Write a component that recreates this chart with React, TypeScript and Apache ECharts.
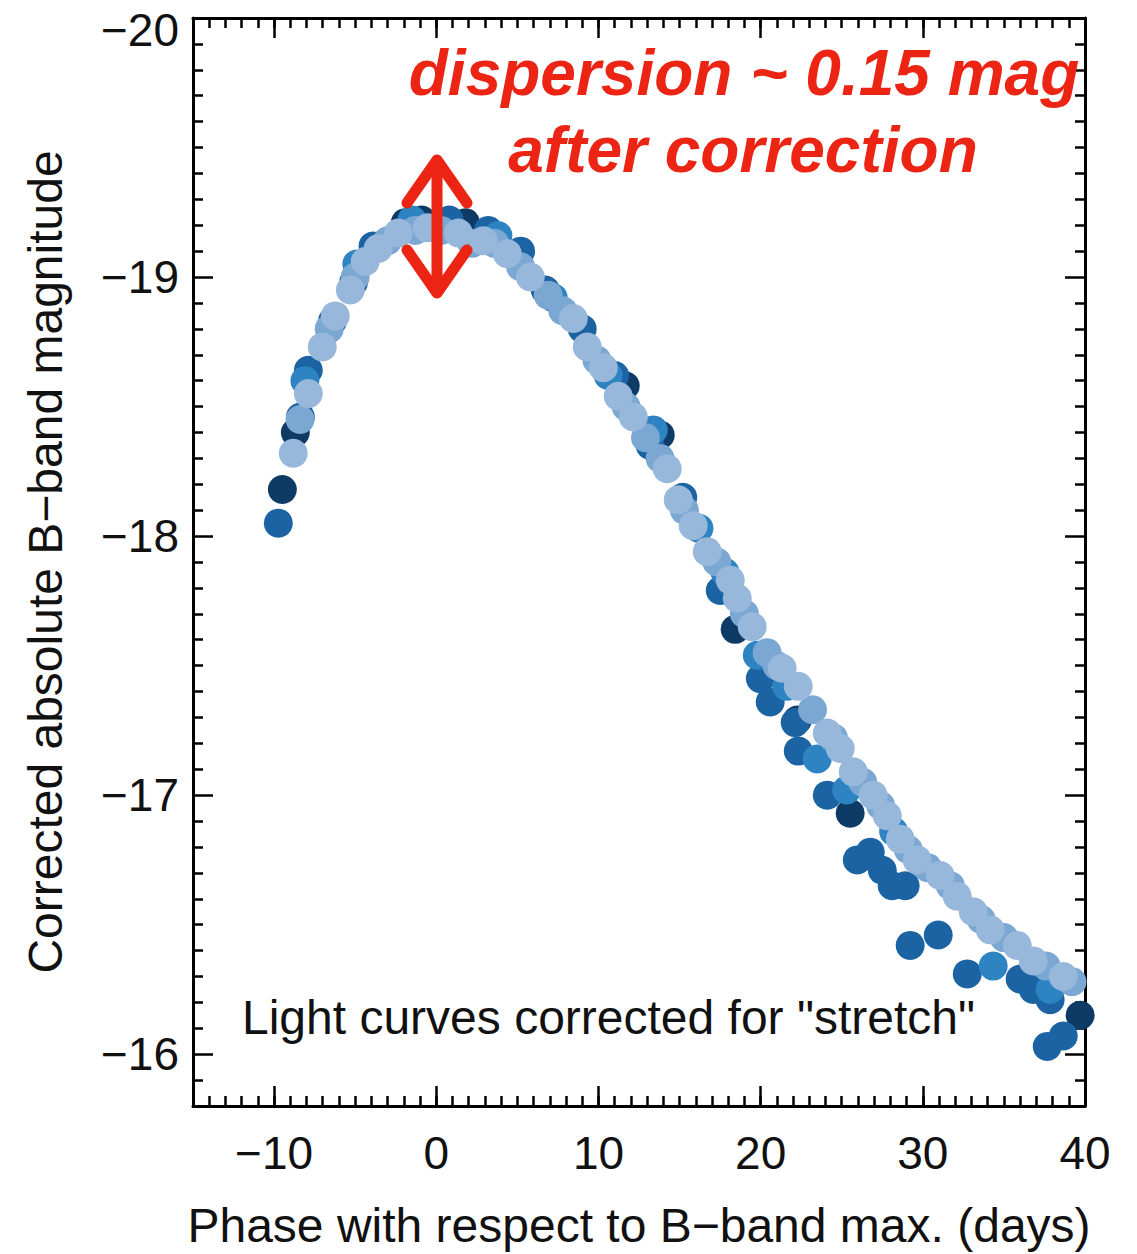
import React, { useEffect, useRef } from 'react';
import * as echarts from 'echarts';

// Tick values
const xMajorTicks = [-10, 0, 10, 20, 30, 40];
const xRange = [-15, 40];
const yRange = [-20, -15.8];

// Light curves: [phase (days), corrected absolute B magnitude]
const snNavy: number[][] = [
  [-9.49, -18.18], [-8.69, -18.40], [-1.91, -19.21], [-0.9, -19.22], [1.8, -19.21], [11.65, -18.58],
  [13.81, -18.39], [18.43, -17.64], [22.26, -17.29], [25.52, -16.93], [39.7, -16.15],
];
const snDark: number[][] = [
  [-9.74, -18.05], [-8.38, -18.46], [-7.89, -18.64], [-6.4, -18.83], [-5.1, -18.98], [-3.9, -19.12],
  [0.8, -19.22], [3.2, -19.18], [5.2, -19.1], [6.72, -18.95], [9.0, -18.8], [11.0, -18.62],
  [13.19, -18.35], [15.2, -18.15], [17.51, -17.79], [19.98, -17.45], [20.59, -17.36], [22.13, -17.28],
  [22.32, -17.17], [24.11, -17.0], [25.96, -16.75], [26.76, -16.78], [27.5, -16.71], [28.11, -16.65],
  [28.91, -16.65], [29.22, -16.42], [30.95, -16.46], [32.74, -16.31], [36.0, -16.29], [36.81, -16.25],
  [37.85, -16.21], [37.67, -16.03], [38.66, -16.07],
];
const snMedium: number[][] = [
  [-8.1, -18.6], [-4.9, -19.05], [-1.5, -19.22], [3.8, -19.16], [7.21, -18.92], [10.6, -18.62],
  [13.38, -18.41], [16.2, -18.03], [17.8, -17.86], [19.79, -17.54], [21.6, -17.42], [23.49, -17.14],
  [25.3, -17.02], [28.2, -16.86], [34.34, -16.34], [37.85, -16.25],
];
const snLight: number[][] = [
  [-8.4, -18.45], [-6.6, -18.8], [-5.0, -19.0], [-3.0, -19.14], [-1.3, -19.18], [0.3, -19.18],
  [2.2, -19.13], [3.6, -19.13], [5.2, -19.04], [6.9, -18.93], [7.8, -18.87], [9.9, -18.68],
  [11.7, -18.5], [12.9, -18.38], [13.8, -18.3], [15.3, -18.1], [17.3, -17.9], [19.0, -17.7],
  [20.4, -17.55], [21.0, -17.5], [23.2, -17.33], [24.5, -17.22], [26.3, -17.05], [27.4, -16.96],
  [29.1, -16.79], [30.3, -16.72], [31.7, -16.65], [33.6, -16.52], [35.0, -16.45], [37.6, -16.34],
  [39.2, -16.28],
];
const snLightest: number[][] = [
  [-8.82, -18.32], [-7.89, -18.55], [-7.03, -18.73], [-6.23, -18.85], [-5.3, -18.95], [-4.38, -19.06],
  [-3.58, -19.11], [-2.34, -19.17], [-0.55, -19.19], [1.36, -19.17], [2.9, -19.14], [4.38, -19.09],
  [5.8, -19.0], [8.45, -18.84], [9.31, -18.73], [10.3, -18.65], [11.22, -18.54], [12.15, -18.46],
  [14.24, -18.26], [14.92, -18.14], [15.84, -18.04], [16.71, -17.94], [18.13, -17.83], [18.56, -17.76],
  [19.48, -17.65], [21.33, -17.49], [22.32, -17.42], [24.11, -17.24], [24.91, -17.18], [25.71, -17.09],
  [26.94, -17.0], [27.81, -16.92], [28.61, -16.83], [29.65, -16.75], [31.07, -16.69], [32.12, -16.61],
  [33.11, -16.55], [34.16, -16.48], [35.82, -16.42], [36.81, -16.36], [38.66, -16.3],
];

const FONT = '"Liberation Sans", Arial, Helvetica, sans-serif';
const RED = '#ec2414';
const INK = '#111111';

const minus = (v: number) => String(v).replace('-', '\u2212');

export default function App() {
  const ref = useRef<HTMLDivElement>(null);
  useEffect(() => {
    const chart = echarts.init(ref.current!, null, { renderer: 'svg' });
    const groups = [
      { data: snNavy, color: '#0e3b66' },
      { data: snDark, color: '#1b63a2' },
      { data: snMedium, color: '#2e84c2' },
      { data: snLight, color: '#7ba7d3' },
      { data: snLightest, color: '#98b8db' },
    ];
    const tickLine = { color: '#000', width: 2.5 };
    const axisLine = { show: true, onZero: false, lineStyle: { color: '#000', width: 3 } };
    const xMajor = (position: string, labels: boolean, extra: any = {}) => ({
      type: 'value', position, min: xRange[0], max: xRange[1],
      axisLine, splitLine: { show: false },
      axisTick: { show: true, inside: true, length: 20, lineStyle: tickLine, customValues: xMajorTicks },
      axisLabel: labels
        ? { show: true, customValues: xMajorTicks, formatter: minus, fontSize: 46, color: INK, fontFamily: FONT, margin: 24 }
        : { show: false },
      ...extra,
    });
    const xMinor = (position: string) => ({
      type: 'value', position, min: xRange[0], max: xRange[1], interval: 1,
      axisLine: { show: false, onZero: false }, splitLine: { show: false },
      axisTick: { show: true, inside: true, length: 10, lineStyle: tickLine },
      axisLabel: { show: false },
    });
    const yAx = (position: string, labels: boolean, extra: any = {}) => ({
      type: 'value', position, inverse: true, min: yRange[0], max: yRange[1], interval: 1,
      axisLine, splitLine: { show: false },
      axisTick: { show: true, inside: true, length: 20, lineStyle: tickLine },
      minorTick: { show: true, splitNumber: 10, length: 10, lineStyle: tickLine },
      axisLabel: labels
        ? {
            show: true, fontSize: 46, color: INK, fontFamily: FONT, margin: 14,
            formatter: (v: number) => {
              if (Math.abs(v - Math.round(v)) > 1e-6) return '';
              const r = Math.round(v);
              return r === yRange[0] ? '{top|' + minus(r) + '}' : minus(r);
            },
            rich: { top: { fontSize: 46, color: INK, fontFamily: FONT, padding: [24, 0, 0, 0] } },
          }
        : { show: false },
      ...extra,
    });
    chart.setOption({
      animation: false,
      textStyle: { fontFamily: FONT },
      grid: { left: 193, top: 18, width: 892, height: 1090, containLabel: false },
      xAxis: [
        xMajor('bottom', true, {
          name: 'Phase with respect to B\u2212band max. (days)', nameLocation: 'middle', nameGap: 95,
          nameTextStyle: { fontSize: 48, color: INK, fontFamily: FONT },
        }),
        xMinor('bottom'),
        xMajor('top', false),
        xMinor('top'),
      ],
      yAxis: [
        yAx('left', true, {
          name: 'Corrected absolute B\u2212band magnitude', nameLocation: 'middle', nameGap: 124,
          nameTextStyle: { fontSize: 48, color: INK, fontFamily: FONT },
        }),
        yAx('right', false),
      ],
      series: groups.map((g) => ({
        type: 'scatter', xAxisIndex: 0, yAxisIndex: 0, symbol: 'circle', symbolSize: 29,
        data: g.data, itemStyle: { color: g.color, opacity: 1 }, silent: true,
        emphasis: { disabled: true },
      })),
      graphic: [
        {
          type: 'text', x: 242, y: 1017, z: 100,
          style: { text: 'Light curves corrected for "stretch"', fontSize: 48, fontFamily: FONT, fill: INK, verticalAlign: 'middle', align: 'left' },
        },
        {
          type: 'text', x: 744, y: 73, z: 100,
          style: { text: 'dispersion ~ 0.15 mag', fontSize: 64, fontWeight: 'bold', fontStyle: 'italic', fontFamily: FONT, fill: RED, align: 'center', verticalAlign: 'middle' },
        },
        {
          type: 'text', x: 743, y: 150, z: 100,
          style: { text: 'after correction', fontSize: 64, fontWeight: 'bold', fontStyle: 'italic', fontFamily: FONT, fill: RED, align: 'center', verticalAlign: 'middle' },
        },
        {
          type: 'line', z: 100,
          shape: { x1: 437, y1: 163, x2: 437, y2: 290 },
          style: { stroke: RED, lineWidth: 11, lineCap: 'round' },
        },
        {
          type: 'polyline', z: 100,
          shape: { points: [[407, 203], [437, 160], [467, 203]] },
          style: { stroke: RED, lineWidth: 11, lineCap: 'round', lineJoin: 'round', fill: 'none' },
        },
        {
          type: 'polyline', z: 100,
          shape: { points: [[407, 250], [437, 293], [467, 250]] },
          style: { stroke: RED, lineWidth: 11, lineCap: 'round', lineJoin: 'round', fill: 'none' },
        },
      ],
    });
    return () => chart.dispose();
  }, []);
  return <div ref={ref} style={{ position: 'absolute', left: 0, top: 0, width: 1137, height: 1254, background: '#fff' }} />;
}
